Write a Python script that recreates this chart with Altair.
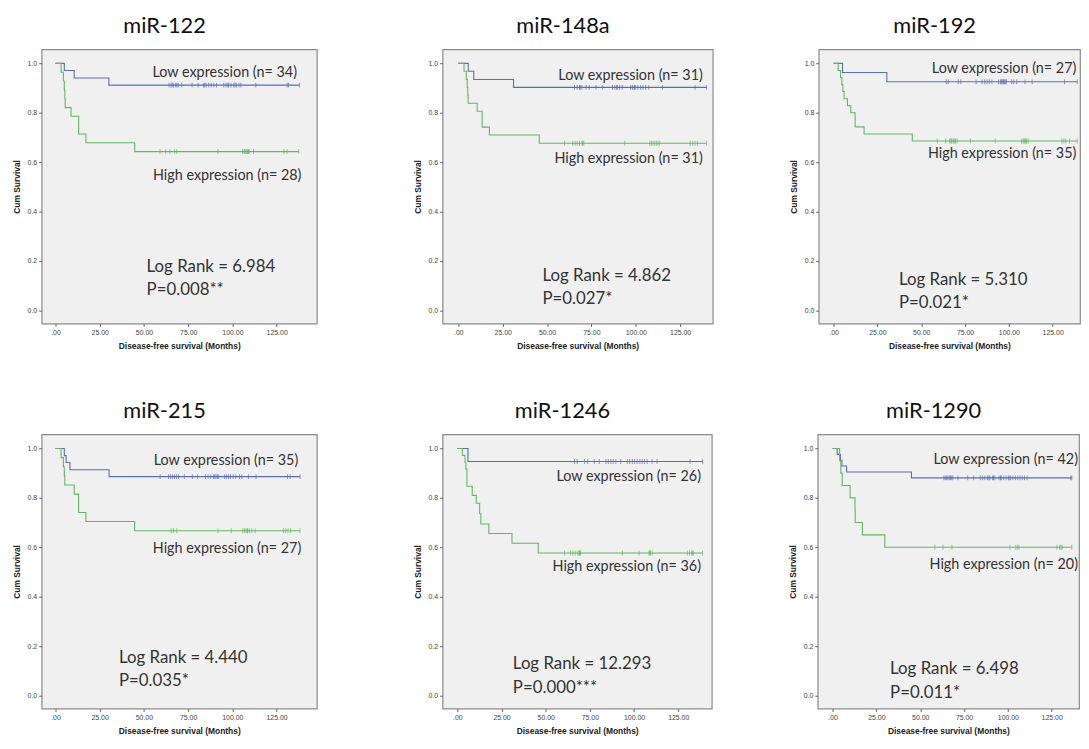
import altair as alt
import pandas as pd

BLUE = "#5a6db5"
GREEN = "#62b862"

# ---------------- miR-122 ----------------
M122_LOW_T = [5.0, 10.6, 30.2]
M122_LOW_S = [0.971, 0.941, 0.912]
M122_LOW_C = [64.2, 65.3, 66.0, 66.6, 67.9, 68.6, 69.4, 71.3, 77.2, 80.6, 83.6, 84.3, 85.1, 86.6, 88.0,
              89.5, 91.0, 95.1, 96.4, 97.4, 97.9, 99.2, 100.7, 101.5, 102.2, 103.7, 104.8, 113.2, 130.9,
              131.7, 137.8]
M122_HIGH_T = [3.2, 4.5, 5.0, 5.3, 5.5, 8.8, 13.1, 17.2, 44.8]
M122_HIGH_S = [0.964, 0.929, 0.893, 0.857, 0.821, 0.786, 0.714, 0.679, 0.643]
M122_HIGH_C = [59.1, 62.3, 64.7, 67.2, 68.5, 91.8, 105.8, 106.7, 107.1, 107.6, 108.2, 108.6, 109.1,
               109.5, 111.9, 129.1, 130.9, 137.5]

# ---------------- miR-148a ----------------
M148_LOW_T = [5.6, 8.7, 31.1]
M148_LOW_S = [0.968, 0.935, 0.903]
M148_LOW_C = [65.5, 67.0, 68.3, 68.8, 69.6, 72.0, 73.8, 77.6, 81.3, 86.9, 88.2, 89.1, 89.7, 91.0, 92.4,
              97.1, 98.0, 98.4, 99.3, 99.9, 101.2, 102.7, 104.0, 105.5, 107.3, 115.1, 133.4, 139.9]
M148_HIGH_T = [3.2, 4.5, 5.0, 5.3, 5.5, 10.6, 13.4, 17.5, 45.6]
M148_HIGH_S = [0.968, 0.935, 0.903, 0.871, 0.839, 0.806, 0.742, 0.710, 0.677]
M148_HIGH_C = [59.9, 64.5, 65.8, 67.0, 68.3, 69.6, 70.1, 70.7, 93.8, 107.9, 108.8, 109.7, 110.7, 111.6,
               112.5, 113.5, 130.6, 132.1, 133.4, 134.7, 139.9]

# ---------------- miR-192 ----------------
M192_LOW_T = [5.1, 30.4]
M192_LOW_S = [0.963, 0.926]
M192_LOW_C = [64.3, 65.4, 71.1, 72.6, 81.3, 84.7, 86.2, 87.5, 88.8, 90.3, 94.1, 95.2, 95.8, 96.3, 96.9,
              97.5, 98.0, 98.6, 101.6, 102.8, 104.5, 109.2, 113.3, 131.8, 139.0]
M192_HIGH_T = [2.6, 4.0, 4.7, 5.3, 6.0, 7.9, 9.8, 12.3, 17.4, 44.9]
M192_HIGH_S = [0.971, 0.943, 0.914, 0.886, 0.857, 0.829, 0.800, 0.743, 0.714, 0.686]
M192_HIGH_C = [59.2, 63.9, 66.2, 66.9, 67.3, 68.1, 68.6, 69.2, 69.6, 70.5, 78.1, 92.2, 107.3, 108.2,
               108.8, 109.2, 109.7, 110.1, 111.0, 130.3, 131.4, 132.5, 134.6, 139.0]

# ---------------- miR-215 ----------------
M215_LOW_T = [5.0, 6.0, 8.2, 30.3]
M215_LOW_S = [0.971, 0.943, 0.914, 0.886]
M215_LOW_C = [59.2, 63.9, 65.0, 66.1, 67.3, 68.4, 69.5, 72.9, 77.4, 80.3, 84.8, 86.3, 87.8, 89.3, 90.1,
              90.8, 91.6, 92.3, 95.7, 96.8, 97.9, 99.0, 100.5, 102.0, 104.1, 105.4, 109.1, 113.4, 131.2,
              132.7, 138.3]
M215_HIGH_T = [3.2, 4.5, 5.0, 5.3, 10.6, 13.1, 17.2, 44.8]
M215_HIGH_S = [0.963, 0.926, 0.889, 0.852, 0.815, 0.741, 0.704, 0.667]
M215_HIGH_C = [65.4, 66.7, 68.6, 91.9, 99.4, 105.9, 106.9, 107.8, 108.4, 108.7, 109.7, 111.0, 112.9,
               128.9, 130.2, 131.5, 133.0, 138.3]

# ---------------- miR-1246 ----------------
M1246_LOW_T = [6.0]
M1246_LOW_S = [0.947]
M1246_LOW_C = [66.3, 67.8, 71.9, 73.8, 77.5, 80.3, 84.1, 85.4, 86.9, 88.2, 89.7, 92.5, 96.2, 97.5, 99.0,
               100.3, 101.8, 103.3, 104.6, 105.9, 107.4, 110.2, 113.0, 131.7, 138.8]
M1246_HIGH_T = [2.8, 4.3, 4.8, 5.4, 8.4, 10.7, 12.6, 13.3, 17.8, 30.9, 45.8]
M1246_HIGH_S = [0.972, 0.944, 0.917, 0.847, 0.810, 0.778, 0.736, 0.694, 0.656, 0.616, 0.577]
M1246_HIGH_C = [60.7, 64.1, 65.4, 66.7, 68.2, 68.8, 68.9, 69.3, 69.7, 93.4, 102.8, 108.4, 108.9, 109.3,
                110.2, 130.2, 131.4, 132.7, 133.0, 133.6, 138.8]

# ---------------- miR-1290 ----------------
M1290_LOW_T = [2.6, 4.5, 5.3, 8.0, 45.0]
M1290_LOW_S = [0.976, 0.952, 0.929, 0.905, 0.881]
M1290_LOW_C = [63.5, 64.3, 65.0, 65.8, 66.6, 67.3, 67.7, 68.6, 71.5, 77.1, 80.5, 84.3, 85.6, 86.9, 88.4,
               89.2, 89.7, 91.3, 91.8, 92.6, 95.0, 95.8, 96.3, 97.7, 99.0, 100.3, 101.1, 101.6, 102.9,
               104.3, 105.6, 106.9, 108.2, 109.5, 111.0, 135.9, 136.5]
M1290_HIGH_T = [4.0, 4.7, 5.5, 10.0, 12.8, 12.9, 17.0, 29.8]
M1290_HIGH_S = [0.95, 0.90, 0.85, 0.80, 0.75, 0.70, 0.65, 0.60]
M1290_HIGH_C = [58.3, 63.0, 68.1, 101.2, 104.5, 105.4, 106.3, 128.0, 129.5, 130.3, 131.0, 136.5]

# panel titles and annotation texts
TITLES = ["miR-122", "miR-148a", "miR-192", "miR-215", "miR-1246", "miR-1290"]
LOW_LABELS = ["Low expression (n= 34)", "Low expression (n= 31)", "Low expression (n= 27)",
              "Low expression (n= 35)", "Low expression (n= 26)", "Low expression (n= 42)"]
HIGH_LABELS = ["High expression (n= 28)", "High expression (n= 31)", "High expression (n= 35)",
               "High expression (n= 27)", "High expression (n= 36)", "High expression (n= 20)"]
LOGRANK = ["Log Rank = 6.984", "Log Rank = 4.862", "Log Rank = 5.310",
           "Log Rank = 4.440", "Log Rank = 12.293", "Log Rank = 6.498"]
PVALUES = ["P=0.008**", "P=0.027*", "P=0.021*", "P=0.035*", "P=0.000***", "P=0.011*"]

# annotation anchor positions (months, survival)
LOW_POS = [(136.5, 0.960), (137.8, 0.949), (138.5, 0.976), (137.3, 0.948), (137.9, 0.885), (140.0, 0.955)]
HIGH_POS = [(139.0, 0.544), (137.8, 0.612), (138.5, 0.635), (139.0, 0.592), (137.9, 0.520), (140.0, 0.528)]
STAT_POS = [(51.5, 0.176), (47.4, 0.141), (37.3, 0.124), (35.9, 0.152), (31.4, 0.127), (32.8, 0.106)]
P_GAP = 0.095

X_DOMAINS = [(-7.8, 147.7), (-8.9, 143.4), (-8.5, 140.6), (-7.8, 147.8), (-8.4, 144.0), (-8.5, 140.6)]
PANEL_W = [278, 273, 264, 278, 272, 264]
Y_DOMAIN = [-0.053, 1.057]

X_TICKS = [0, 25, 50, 75, 100, 125]
Y_TICKS = [0.0, 0.2, 0.4, 0.6, 0.8, 1.0]

CURVES = [
    (M122_LOW_T, M122_LOW_S, M122_LOW_C, M122_HIGH_T, M122_HIGH_S, M122_HIGH_C),
    (M148_LOW_T, M148_LOW_S, M148_LOW_C, M148_HIGH_T, M148_HIGH_S, M148_HIGH_C),
    (M192_LOW_T, M192_LOW_S, M192_LOW_C, M192_HIGH_T, M192_HIGH_S, M192_HIGH_C),
    (M215_LOW_T, M215_LOW_S, M215_LOW_C, M215_HIGH_T, M215_HIGH_S, M215_HIGH_C),
    (M1246_LOW_T, M1246_LOW_S, M1246_LOW_C, M1246_HIGH_T, M1246_HIGH_S, M1246_HIGH_C),
    (M1290_LOW_T, M1290_LOW_S, M1290_LOW_C, M1290_HIGH_T, M1290_HIGH_S, M1290_HIGH_C),
]


def step_table(times, surv, censor):
    end = max(censor)
    return pd.DataFrame({"t": [0.0] + list(times) + [end],
                         "s": [1.0] + list(surv) + [surv[-1]]})


def censor_table(times, surv, censor):
    vals = []
    for c in censor:
        v = 1.0
        for t, s in zip(times, surv):
            if t <= c:
                v = s
        vals.append(v)
    return pd.DataFrame({"t": list(censor), "s": vals})


def panel(i, height):
    lt, ls, lc, ht, hs, hc = CURVES[i]
    xs = alt.X("t:Q", scale=alt.Scale(domain=list(X_DOMAINS[i]), nice=False, zero=False),
               axis=alt.Axis(values=X_TICKS, title="Disease-free survival (Months)",
                             labelExpr="datum.value == 0 ? '.00' : format(datum.value, '.2f')"))
    ys = alt.Y("s:Q", scale=alt.Scale(domain=Y_DOMAIN, nice=False, zero=False),
               axis=alt.Axis(values=Y_TICKS, format=".1f", title="Cum Survival"))

    low_line = alt.Chart(step_table(lt, ls, lc)).mark_line(
        interpolate="step-after", color=BLUE, strokeWidth=1.1).encode(x=xs, y=ys)
    high_line = alt.Chart(step_table(ht, hs, hc)).mark_line(
        interpolate="step-after", color=GREEN, strokeWidth=1.1).encode(x=xs, y=ys)
    low_cens = alt.Chart(censor_table(lt, ls, lc)).mark_tick(
        orient="vertical", color=BLUE, size=5, thickness=1).encode(x=xs, y=ys)
    high_cens = alt.Chart(censor_table(ht, hs, hc)).mark_tick(
        orient="vertical", color=GREEN, size=5, thickness=1).encode(x=xs, y=ys)

    right_txt = pd.DataFrame({
        "t": [LOW_POS[i][0], HIGH_POS[i][0]],
        "s": [LOW_POS[i][1], HIGH_POS[i][1]],
        "label": [LOW_LABELS[i], HIGH_LABELS[i]],
    })
    left_txt = pd.DataFrame({
        "t": [STAT_POS[i][0], STAT_POS[i][0]],
        "s": [STAT_POS[i][1], STAT_POS[i][1] - P_GAP],
        "label": [LOGRANK[i], PVALUES[i]],
    })
    t_right = alt.Chart(right_txt).mark_text(
        align="right", baseline="middle", font="Lato", fontSize=14.5, color="#333333"
    ).encode(x=xs, y=ys, text="label:N")
    t_left = alt.Chart(left_txt).mark_text(
        align="left", baseline="middle", font="Lato", fontSize=17, color="#333333"
    ).encode(x=xs, y=ys, text="label:N")

    return alt.layer(low_line, high_line, low_cens, high_cens, t_right, t_left).properties(
        width=PANEL_W[i], height=height,
        title=alt.TitleParams(TITLES[i], fontSize=22, font="Lato", fontWeight="normal",
                              color="#111111", anchor="middle", frame="bounds", offset=12),
    )


row1 = alt.hconcat(alt.hconcat(panel(0, 277), panel(1, 277), spacing=95), panel(2, 277), spacing=75)
row2 = alt.hconcat(alt.hconcat(panel(3, 277), panel(4, 277), spacing=95), panel(5, 277), spacing=75)

chart = alt.vconcat(row1, row2, spacing=48).properties(
    padding={"left": 3, "top": 2, "right": 0, "bottom": 0}
).configure_view(
    stroke="#8a8a8a", strokeWidth=1.2, fill="#f0f0f0"
).configure_axis(
    domain=False, grid=False, labelFont="Liberation Sans", labelFontSize=7, labelColor="#444444",
    tickSize=3, tickColor="#666666", labelPadding=2,
    titleFont="Liberation Sans", titleFontSize=8.5, titleFontWeight="bold", titleColor="#222222",
    titlePadding=6,
).configure_concat(spacing=0)

chart.save("out.html", embed_options={"renderer": "svg", "actions": False})
